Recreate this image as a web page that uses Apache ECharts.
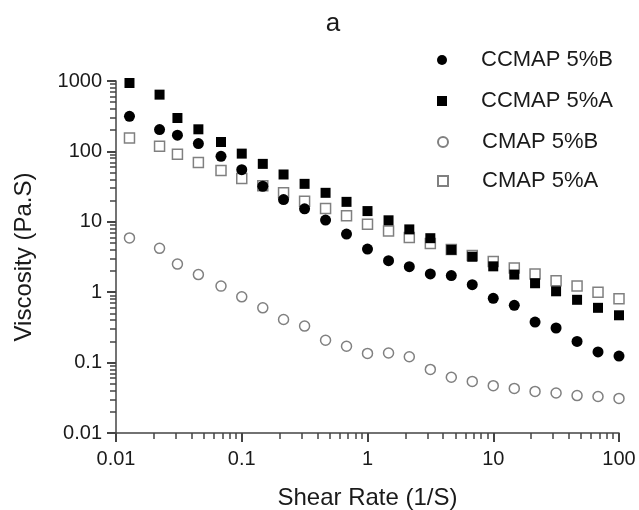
<!DOCTYPE html>
<html><head><meta charset="utf-8">
<script src="https://cdn.jsdelivr.net/npm/echarts@6/dist/echarts.min.js"></script>
<style>html,body{margin:0;padding:0;background:#fff}#c{width:639px;height:510px;background:#fff}</style>
</head><body><div id="c"></div>
<script>
// ---- data ----
const shearRate = [0.0128, 0.0222, 0.0308, 0.0452, 0.0684, 0.1, 0.147, 0.215, 0.316, 0.464, 0.681,
  1, 1.47, 2.15, 3.16, 4.64, 6.81, 10, 14.7, 21.5, 31.6, 46.4, 68.1, 100];
const ccmapB = [315, 204, 170, 129, 85, 55, 32, 20.7, 15.3, 10.6, 6.7,
  4.1, 2.8, 2.3, 1.82, 1.72, 1.28, 0.82, 0.65, 0.377, 0.31, 0.2, 0.142, 0.124];
const ccmapA = [937, 640, 298, 206, 136, 93, 66.5, 47, 34.6, 25.8, 19.2,
  14.2, 10.5, 7.8, 5.85, 4.0, 3.19, 2.33, 1.78, 1.34, 1.03, 0.78, 0.6, 0.47];
const cmapB = [5.9, 4.2, 2.51, 1.78, 1.22, 0.86, 0.6, 0.41, 0.33, 0.208, 0.171,
  0.135, 0.137, 0.121, 0.08, 0.062, 0.054, 0.047, 0.043, 0.039, 0.037, 0.034, 0.033, 0.031];
const cmapA = [155, 118, 91, 69.5, 53.5, 41.2, 32.4, 25.8, 19.6, 15.5, 12.2,
  9.2, 7.4, 6.0, 4.9, 4.05, 3.33, 2.74, 2.21, 1.82, 1.46, 1.22, 1.0, 0.81];
const seriesNames = ['CCMAP 5%B', 'CCMAP 5%A', 'CMAP 5%B', 'CMAP 5%A'];
const xTickLabels = ['0.01', '0.1', '1', '10', '100'];
const yTickLabels = ['0.01', '0.1', '1', '10', '100', '1000'];
const titleText = 'a';
const xName = 'Shear Rate (1/S)';
const yName = 'Viscosity (Pa.S)';

// ---- chart ----
const FONT = 'Liberation Sans, Arial, Helvetica, sans-serif';
const AXIS_COLOR = '#444444';
const TEXT_COLOR = '#1a1a1a';
const SHIFT = 10; // tick axes use log10(value) + SHIFT
const zip = (xs, ys) => xs.map((x, i) => [x, ys[i]]);
const lg = v => Math.log10(v);
const tickPos = v => lg(v) + SHIFT;
function minorPos(lo, hi) {
  const out = [];
  for (let e = Math.round(lg(lo)); e < Math.round(lg(hi)); e++)
    for (let k = 2; k <= 9; k++) out.push(tickPos(k * Math.pow(10, e)));
  return out;
}
const majorPos = list => list.map(s => tickPos(parseFloat(s)));
function labelFor(list) {
  return v => list.find(s => Math.abs(lg(parseFloat(s)) - lg(v)) < 1e-6) || '';
}
const xMin = parseFloat(xTickLabels[0]), xMax = parseFloat(xTickLabels[xTickLabels.length - 1]);
const yMin = parseFloat(yTickLabels[0]), yMax = parseFloat(yTickLabels[yTickLabels.length - 1]);

const chart = echarts.init(document.getElementById('c'));
const filled = {color: '#000', opacity: 1};
const hollow = {color: '#fff', borderColor: '#808080', borderWidth: 1.5, opacity: 1};
const legendRowY = [54, 95, 136, 175];

function axesFor(dim, lo, hi, labels, name, nameGap, margin) {
  const pos = dim === 'x' ? 'bottom' : 'left';
  return [{
    // data axis: log scale, draws the axis line and the decade labels
    type: 'log', logBase: 10, min: lo, max: hi, position: pos,
    axisLine: {show: true, onZero: false, lineStyle: {color: AXIS_COLOR, width: 1.5}},
    axisTick: {show: true, length: 9, lineStyle: {color: AXIS_COLOR, width: 2}},
    axisLabel: {show: true, fontSize: 20, color: TEXT_COLOR, fontFamily: FONT, margin: margin,
      formatter: labelFor(labels)},
    splitLine: {show: false}
  }, {
    // minor ticks (2..9 within each decade)
    type: 'value', min: tickPos(lo), max: tickPos(hi), position: pos,
    axisLine: {show: false}, axisLabel: {show: false}, splitLine: {show: false},
    axisTick: {show: true, length: 6, customValues: minorPos(lo, hi),
      lineStyle: {color: AXIS_COLOR, width: 1.5}}
  }, {
    // major ticks again (decades), plus the axis title
    type: 'value', min: tickPos(lo), max: tickPos(hi), position: pos,
    name: name, nameLocation: 'middle', nameGap: nameGap, nameRotate: dim === 'x' ? 0 : 90,
    nameTextStyle: {fontSize: 24, color: TEXT_COLOR, fontFamily: FONT},
    axisLine: {show: false}, axisLabel: {show: false}, splitLine: {show: false},
    axisTick: {show: true, length: 9, customValues: majorPos(labels),
      lineStyle: {color: AXIS_COLOR, width: 2}}
  }];
}

chart.setOption({
  animation: false,
  title: {
    text: titleText, left: 333, top: 11, textAlign: 'center', padding: 0,
    textStyle: {fontSize: 26, fontWeight: 'normal', color: TEXT_COLOR, fontFamily: FONT}
  },
  legend: seriesNames.map((n, i) => ({
    data: [n], orient: 'vertical', left: 437, top: legendRowY[i] - 5, padding: 0,
    itemWidth: 10, itemHeight: 10, selectedMode: false,
    textStyle: {fontSize: 22, color: TEXT_COLOR, fontFamily: FONT, padding: [0, 0, 0, 29]}
  })),
  grid: {left: 116, right: 20, top: 81, bottom: 77, outerBoundsMode: 'none'},
  xAxis: axesFor('x', xMin, xMax, xTickLabels, xName, 53, 16),
  yAxis: axesFor('y', yMin, yMax, yTickLabels, yName, 80, 14),
  series: [
    {name: seriesNames[3], type: 'scatter', symbol: 'rect', symbolSize: 10, itemStyle: hollow,
     data: zip(shearRate, cmapA)},
    {name: seriesNames[2], type: 'scatter', symbol: 'circle', symbolSize: 10, itemStyle: hollow,
     data: zip(shearRate, cmapB)},
    {name: seriesNames[1], type: 'scatter', symbol: 'rect', symbolSize: 10, itemStyle: filled,
     data: zip(shearRate, ccmapA)},
    {name: seriesNames[0], type: 'scatter', symbol: 'circle', symbolSize: 11, itemStyle: filled,
     data: zip(shearRate, ccmapB)}
  ]
});
</script></body></html>
